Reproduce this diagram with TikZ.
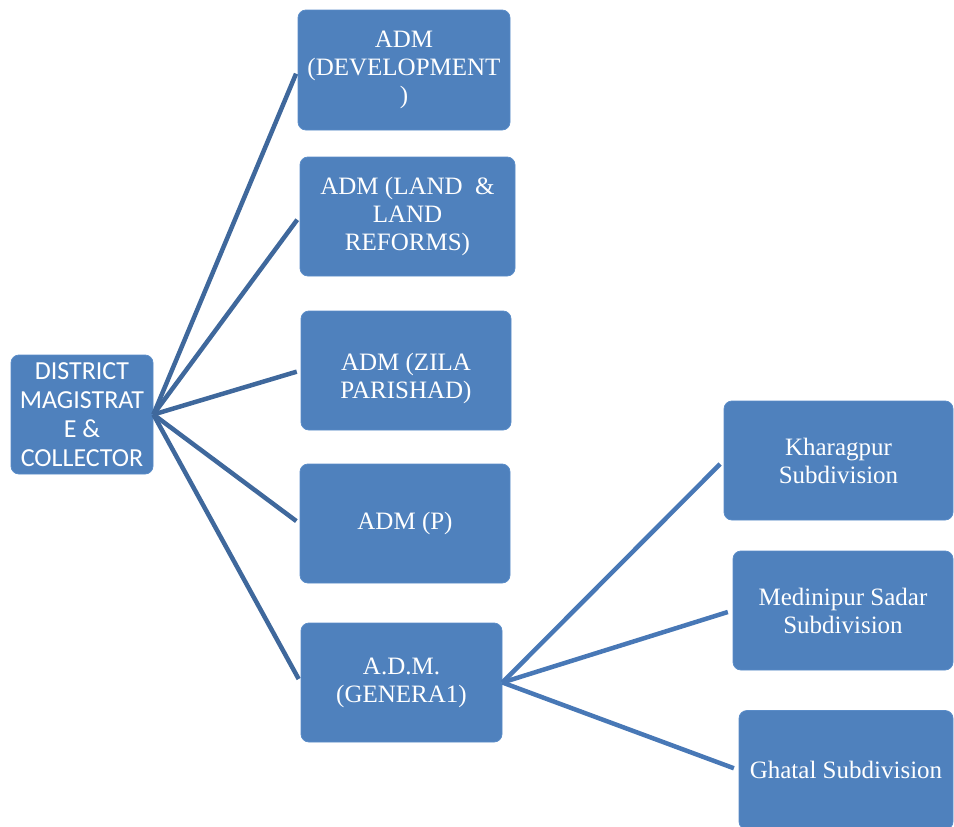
\documentclass[tikz,border=0pt]{standalone}
\usepackage{fontspec}
\setmainfont{Liberation Serif}
\newfontfamily\calibrifont{Carlito}
\definecolor{boxblue}{HTML}{4F81BD}
\definecolor{boxedge}{HTML}{5A8CC8}
\definecolor{linkdark}{HTML}{3F689C}
\definecolor{linklight}{HTML}{4878B6}

\begin{document}
\begin{tikzpicture}[x=1pt, y=-1pt,
    unit/.style={draw=boxedge, line width=0.8pt, fill=boxblue, rounded corners=8pt,
                 text=white, align=center, inner sep=2pt, minimum height=119pt,
                 font=\fontsize{25}{28}\selectfont},
    link/.style={line width=4.5pt, draw=linkdark, shorten >=4pt},
    sublink/.style={line width=4.5pt, draw=linklight, shorten >=5pt}]
            \useasboundingbox (0, 0) rectangle (954, 827);
            \node[unit, minimum width=142pt, font=\calibrifont\fontsize{26}{29}\selectfont] (dm) at (82, 414.5) {DISTRICT\\MAGISTRAT\\E \&\\COLLECTOR};
            \node[unit, minimum width=212pt, minimum height=120pt] (dev) at (404, 70) {ADM\\(DEVELOPMENT\\)};
            \node[unit, minimum width=215pt] (land) at (407.5, 216.5) {ADM (LAND \ \&\\LAND\\REFORMS)};
            \node[unit, minimum width=210pt] (zila) at (406, 370.5) {\rule{0pt}{34pt}ADM (ZILA\\PARISHAD)};
            \node[unit, minimum width=210pt] (p) at (405, 523.5) {ADM (P)};
            \node[unit, minimum width=201pt] (gen) at (401.5, 682.5) {A.D.M.\\(GENERA1)};
            \node[unit, minimum width=229pt] (khar) at (838.5, 460.5) {Kharagpur\\Subdivision};
            \node[unit, minimum width=220pt] (med) at (843, 610.5) {Medinipur Sadar\\Subdivision};
            \node[unit, minimum width=214pt] (ghat) at (846, 770) {Ghatal Subdivision};
            \draw[link] (dm.east) -- (dev.west);
            \draw[link] (dm.east) -- (land.west);
            \draw[link] (dm.east) -- (zila.west);
            \draw[link] (dm.east) -- (p.west);
            \draw[link] (dm.east) -- (gen.west);
            \draw[sublink] (gen.east) -- (khar.west);
            \draw[sublink] (gen.east) -- (med.west);
            \draw[sublink] (gen.east) -- (ghat.west);
        \end{tikzpicture}
\end{document}
